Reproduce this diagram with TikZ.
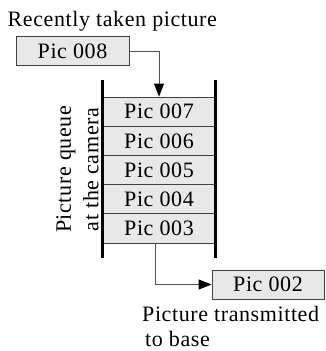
\documentclass[tikz,border=0pt]{standalone}
\usepackage{fontspec}
\setmainfont[LetterSpace=2.7]{Liberation Serif}
\usetikzlibrary{arrows.meta}
\definecolor{boxfill}{HTML}{E8E8E8}
\definecolor{boxline}{HTML}{404040}
\definecolor{conn}{HTML}{505050}
\tikzset{
  pic/.style={draw=boxline, line width=0.8pt, fill=boxfill, minimum width=113pt, minimum height=29pt, inner sep=0pt, font=\fontsize{22}{27}\selectfont},
  qpic/.style={pic, minimum width=112pt, minimum height=29.2pt},
  lbl/.style={inner sep=0pt, font=\fontsize{22}{27.5}\selectfont},
  conn/.style={draw=conn, line width=0.9pt, -{Triangle[length=13pt,width=10pt,color=black]}},
  wall/.style={line width=2.6pt, black}
}
\begin{document}
\begin{tikzpicture}[x=1pt,y=-1pt]
\useasboundingbox (0,0) rectangle (325,351);
\node[lbl, anchor=base west] (title) at (7.5,26) {Recently taken picture};
\node[pic] (p8) at (72.5,51) {Pic 008};
\node[qpic] (p7) at (159,111.6) {Pic 007};
\node[qpic] (p6) at (159,140.8) {Pic 006};
\node[qpic] (p5) at (159,170.0) {Pic 005};
\node[qpic] (p4) at (159,199.2) {Pic 004};
\node[qpic] (p3) at (159,228.4) {Pic 003};
\coordinate (lt) at (102.5,80);
\coordinate (lb) at (102.5,258);
\coordinate (rt) at (215.5,80);
\coordinate (rb) at (215.5,258);
\draw[wall] (lt) -- (lb);
\draw[wall] (rt) -- (rb);
\node[pic, minimum width=112pt] (p2) at (268,284.5) {Pic 002};
\draw[conn] (p8.east) -| (p7.north);
\draw[conn] (p3.south -| 155,0) |- (p2.west);
\node[lbl, rotate=90, align=center, anchor=center] (qlabel) at (77.5,169.5) {Picture queue\\at the camera};
\node[lbl, anchor=base west] (t1) at (142,321.5) {Picture transmitted};
\node[lbl, anchor=base west] (t2) at (145,346.5) {to base};
\end{tikzpicture}
\end{document}
